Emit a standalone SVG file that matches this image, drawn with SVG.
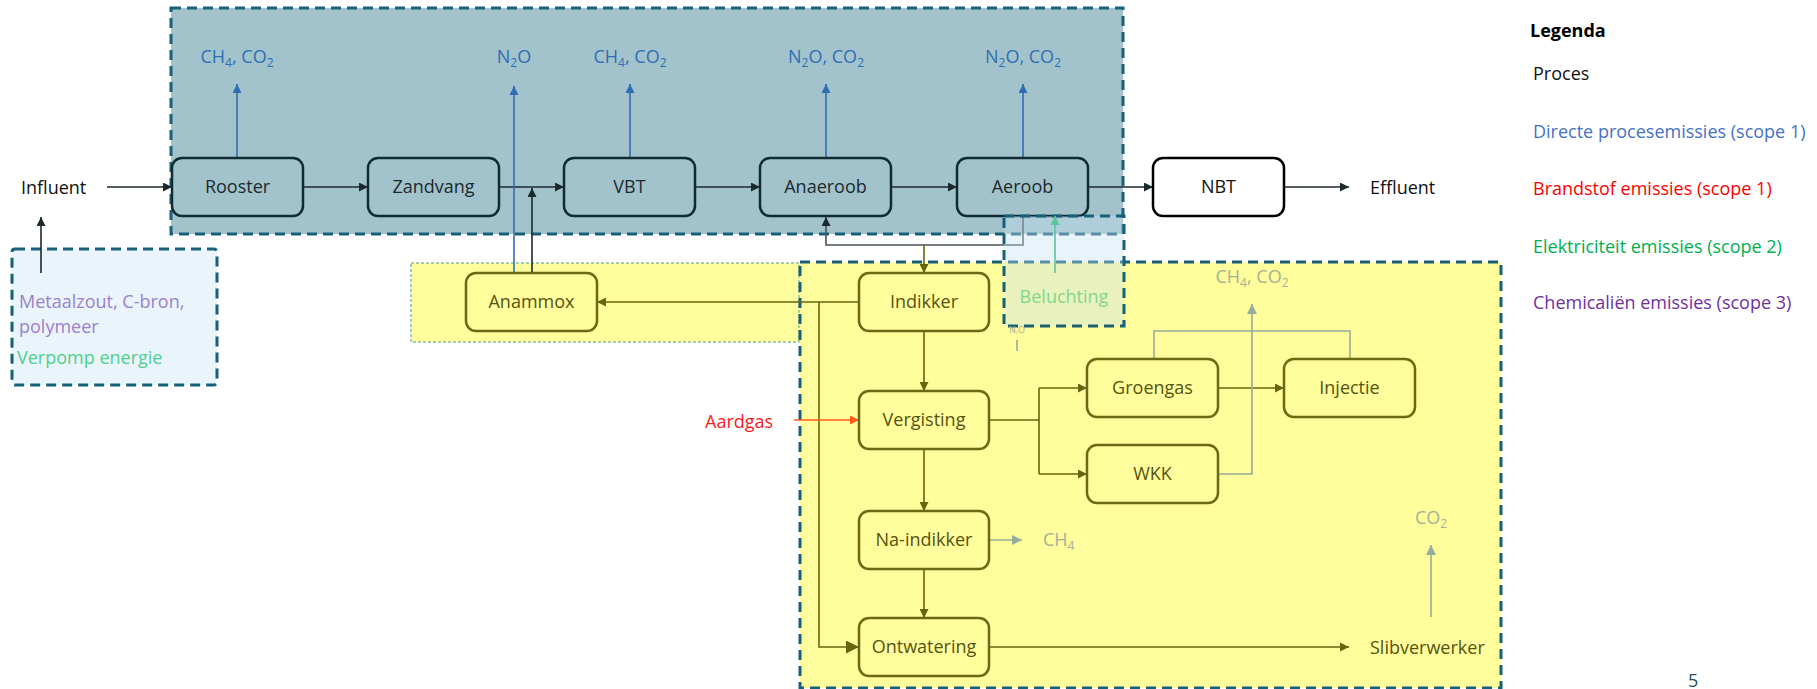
<svg xmlns="http://www.w3.org/2000/svg" width="1817" height="689" viewBox="0 0 1817 689">
<defs>
<style>
text{font-family:"Open Sans","Noto Sans","Liberation Sans",sans-serif;font-size:18px}
.nb rect{fill:#a2c3cb;stroke:#102b33;stroke-width:2.5}
.nb text{fill:#1c2a2e;text-anchor:middle}
.ny rect{fill:#fffd9c;stroke:#6b6a14;stroke-width:2.5}
.ny text{fill:#55540f;text-anchor:middle}
.nw rect{fill:#fff;stroke:#000;stroke-width:2.5}
.nw text{fill:#111;text-anchor:middle}
.c{fill:none;stroke-width:1.6}
.dk{stroke:#1c2a2e}
.bl{stroke:#2e6eb5}
.ol{stroke:#66650f}
.gg{stroke:#97ac9c}
.em{fill:#2e6eb5;text-anchor:middle}
.mu{fill:#a3b296}
.dash{stroke:#17607a;stroke-width:3;stroke-dasharray:10 6}
</style>
<marker id="aDk" viewBox="0 0 10 10" refX="10" refY="5" markerWidth="9" markerHeight="9" markerUnits="userSpaceOnUse" orient="auto"><path d="M0,0L10,5L0,10z" fill="#1c2a2e"/></marker>
<marker id="aBl" viewBox="0 0 10 10" refX="10" refY="5" markerWidth="9" markerHeight="9" markerUnits="userSpaceOnUse" orient="auto"><path d="M0,0L10,5L0,10z" fill="#2e6eb5"/></marker>
<marker id="aOl" viewBox="0 0 10 10" refX="10" refY="5" markerWidth="9" markerHeight="9" markerUnits="userSpaceOnUse" orient="auto"><path d="M0,0L10,5L0,10z" fill="#66650f"/></marker>
<marker id="aOlB" viewBox="0 0 10 10" refX="10" refY="5" markerWidth="13" markerHeight="13" markerUnits="userSpaceOnUse" orient="auto"><path d="M0,0L10,5L0,10z" fill="#66650f"/></marker>
<marker id="aGg" viewBox="0 0 10 10" refX="10" refY="5" markerWidth="10" markerHeight="10" markerUnits="userSpaceOnUse" orient="auto"><path d="M0,0L10,5L0,10z" fill="#97ac9c"/></marker>
<marker id="aOr" viewBox="0 0 10 10" refX="10" refY="5" markerWidth="9" markerHeight="9" markerUnits="userSpaceOnUse" orient="auto"><path d="M0,0L10,5L0,10z" fill="#ff5a1a"/></marker>
<marker id="aGr" viewBox="0 0 10 10" refX="10" refY="5" markerWidth="9" markerHeight="9" markerUnits="userSpaceOnUse" orient="auto"><path d="M0,0L10,5L0,10z" fill="#5cc49c"/></marker>
</defs>

<g id="regions">
<rect x="171" y="8" width="952" height="226" fill="#a2c3cb" class="dash"/>
<rect x="12" y="249" width="205" height="136" rx="3" fill="#eaf5fb" class="dash"/>
<rect x="411" y="263" width="388" height="79" fill="#fffd9c" stroke="#4d9a9a" stroke-width="1" stroke-dasharray="3 2"/>
<rect x="800" y="262" width="701" height="426" fill="#fffd9c" class="dash"/>
</g>

<g id="connectors">
<path class="c dk" d="M107,187H172" marker-end="url(#aDk)"/>
<path class="c dk" d="M303,187H368" marker-end="url(#aDk)"/>
<path class="c dk" d="M499,187H564" marker-end="url(#aDk)"/>
<path class="c dk" d="M695,187H760" marker-end="url(#aDk)"/>
<path class="c dk" d="M891,187H957" marker-end="url(#aDk)"/>
<path class="c dk" d="M1088,187H1153" marker-end="url(#aDk)"/>
<path class="c dk" d="M1284,187H1349" marker-end="url(#aDk)"/>
<path class="c bl" d="M237,158V84" marker-end="url(#aBl)"/>
<path class="c bl" d="M514,273V86" marker-end="url(#aBl)"/>
<path class="c bl" d="M630,158V84" marker-end="url(#aBl)"/>
<path class="c bl" d="M826,158V84" marker-end="url(#aBl)"/>
<path class="c bl" d="M1023,158V84" marker-end="url(#aBl)"/>
<path class="c dk" d="M532,273V188" marker-end="url(#aDk)"/>
<path class="c dk" d="M41,273V217" marker-end="url(#aDk)"/>
<path class="c" stroke="#4a5458" d="M1023,216V245H826V217" marker-end="url(#aDk)"/>
<path class="c ol" d="M924,245V273" marker-end="url(#aOl)"/>
<path class="c ol" d="M859,302H597" marker-end="url(#aOl)"/>
<path class="c ol" d="M819,302V647H859" marker-end="url(#aOlB)"/>
<path class="c ol" d="M924,331V391" marker-end="url(#aOl)"/>
<path class="c ol" d="M924,449V511" marker-end="url(#aOl)"/>
<path class="c ol" d="M924,569V618" marker-end="url(#aOl)"/>
<path class="c" stroke="#ff5a1a" d="M794,420H859" marker-end="url(#aOr)"/>
<path class="c ol" d="M989,420H1039M1039,388V474"/>
<path class="c ol" d="M1039,388H1087" marker-end="url(#aOl)"/>
<path class="c ol" d="M1039,474H1087" marker-end="url(#aOl)"/>
<path class="c ol" d="M1218,388H1284" marker-end="url(#aOl)"/>
<path class="c gg" d="M1154,359V331H1350V359"/>
<path class="c gg" d="M1218,474H1252V304" marker-end="url(#aGg)"/>
<path class="c gg" stroke-width="2" d="M989,540H1022" marker-end="url(#aGg)"/>
<path class="c ol" d="M989,647H1349" marker-end="url(#aOl)"/>
<path class="c gg" stroke-width="2" d="M1431,617V545" marker-end="url(#aGg)"/>
<path class="c gg" stroke-width="1" d="M1017,351V340"/>
</g>

<g id="n-rooster" class="nb"><rect x="172" y="158" width="131" height="58" rx="10"/><text x="237.5" y="193">Rooster</text></g>
<g id="n-zandvang" class="nb"><rect x="368" y="158" width="131" height="58" rx="10"/><text x="433.5" y="193">Zandvang</text></g>
<g id="n-vbt" class="nb"><rect x="564" y="158" width="131" height="58" rx="10"/><text x="629.5" y="193">VBT</text></g>
<g id="n-anaeroob" class="nb"><rect x="760" y="158" width="131" height="58" rx="10"/><text x="825.5" y="193">Anaeroob</text></g>
<g id="n-aeroob" class="nb"><rect x="957" y="158" width="131" height="58" rx="10"/><text x="1022.5" y="193">Aeroob</text></g>
<g id="n-nbt" class="nw"><rect x="1153" y="158" width="131" height="58" rx="10"/><text x="1218.5" y="193">NBT</text></g>

<g id="n-anammox" class="ny"><rect x="466" y="273" width="131" height="58" rx="10"/><text x="531.5" y="308">Anammox</text></g>
<g id="n-indikker" class="ny"><rect x="859" y="273" width="130" height="58" rx="10"/><text x="924" y="308">Indikker</text></g>
<g id="n-vergisting" class="ny"><rect x="859" y="391" width="130" height="58" rx="10"/><text x="924" y="426">Vergisting</text></g>
<g id="n-naindikker" class="ny"><rect x="859" y="511" width="130" height="58" rx="10"/><text x="924" y="546">Na-indikker</text></g>
<g id="n-ontwatering" class="ny"><rect x="859" y="618" width="130" height="58" rx="10"/><text x="924" y="653">Ontwatering</text></g>
<g id="n-groengas" class="ny"><rect x="1087" y="359" width="131" height="58" rx="10"/><text x="1152.5" y="394">Groengas</text></g>
<g id="n-injectie" class="ny"><rect x="1284" y="359" width="131" height="58" rx="10"/><text x="1349.5" y="394">Injectie</text></g>
<g id="n-wkk" class="ny"><rect x="1087" y="445" width="131" height="58" rx="10"/><text x="1152.5" y="480">WKK</text></g>

<g id="n-beluchting">
<rect x="1004" y="216" width="120" height="110" fill="#c4e0f3" fill-opacity="0.38" class="dash"/>
<text x="1064" y="303" fill="#7fd68f" text-anchor="middle">Beluchting</text>
<path class="c" stroke="#5cc49c" d="M1055,273V216" marker-end="url(#aGr)"/>
</g>

<g id="labels">
<text x="21" y="194" fill="#111">Influent</text>
<text x="1370" y="194" fill="#111">Effluent</text>
<text class="em" x="237" y="63">CH<tspan font-size="12" dy="4">4</tspan><tspan dy="-4">, CO</tspan><tspan font-size="12" dy="4">2</tspan></text>
<text class="em" x="514" y="63">N<tspan font-size="12" dy="4">2</tspan><tspan dy="-4">O</tspan></text>
<text class="em" x="630" y="63">CH<tspan font-size="12" dy="4">4</tspan><tspan dy="-4">, CO</tspan><tspan font-size="12" dy="4">2</tspan></text>
<text class="em" x="826" y="63">N<tspan font-size="12" dy="4">2</tspan><tspan dy="-4">O, CO</tspan><tspan font-size="12" dy="4">2</tspan></text>
<text class="em" x="1023" y="63">N<tspan font-size="12" dy="4">2</tspan><tspan dy="-4">O, CO</tspan><tspan font-size="12" dy="4">2</tspan></text>
<text x="19" y="308" fill="#9b7fd1" font-size="17">Metaalzout, C-bron,</text>
<text x="19" y="333" fill="#9b7fd1" font-size="17">polymeer</text>
<text x="17" y="364" fill="#4fcf8f">Verpomp energie</text>
<text x="705" y="428" fill="#ff1a1a">Aardgas</text>
<text class="mu" x="1043" y="546">CH<tspan font-size="12" dy="4">4</tspan></text>
<text class="mu" x="1252" y="283" text-anchor="middle">CH<tspan font-size="12" dy="4">4</tspan><tspan dy="-4">, CO</tspan><tspan font-size="12" dy="4">2</tspan></text>
<text class="mu" x="1431" y="524" text-anchor="middle">CO<tspan font-size="12" dy="4">2</tspan></text>
<text x="1370" y="654" fill="#55540f">Slibverwerker</text>
<text transform="translate(1017,333) scale(0.5)" fill="#a3b296" font-size="11" text-anchor="middle">N<tspan font-size="8" dy="2">2</tspan><tspan dy="-2">O</tspan></text>
<text x="1688" y="687" fill="#1f4e5f" font-size="16">5</text>
</g>

<g id="legend">
<text x="1530" y="37" font-weight="bold" fill="#000" font-size="20">Legenda</text>
<text x="1533" y="80" fill="#111">Proces</text>
<text x="1533" y="138" fill="#4472c4">Directe procesemissies (scope 1)</text>
<text x="1533" y="195" fill="#ff0000">Brandstof emissies (scope 1)</text>
<text x="1533" y="253" fill="#00b050">Elektriciteit emissies (scope 2)</text>
<text x="1533" y="309" fill="#7030a0">Chemicaliën emissies (scope 3)</text>
</g>
</svg>
